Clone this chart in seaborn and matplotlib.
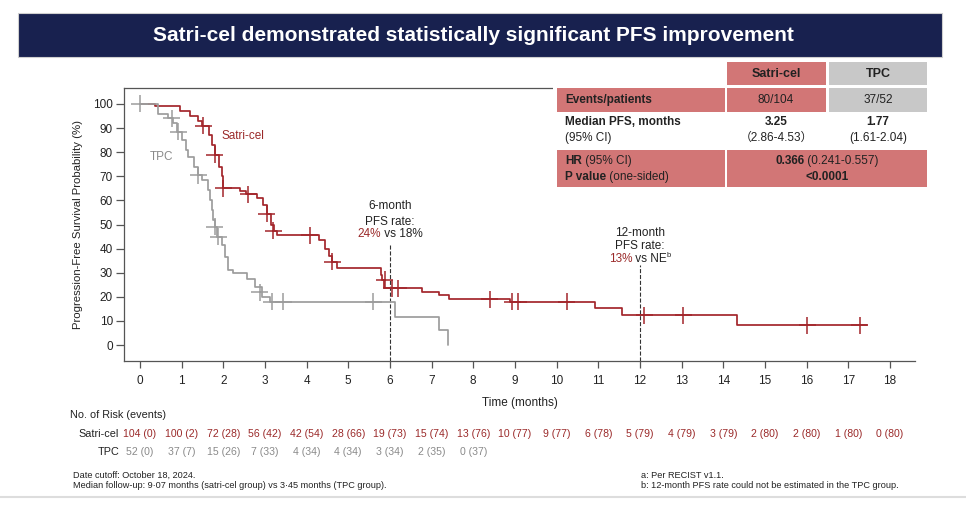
import numpy as np
import pandas as pd
import matplotlib
matplotlib.use("Agg")
import matplotlib.pyplot as plt
import seaborn as sns
from matplotlib.patches import Rectangle
from matplotlib.transforms import offset_copy, blended_transform_factory

# ---------------- data ----------------
satri_time = [0, 0.36, 0.96, 1.2, 1.4, 1.5, 1.65, 1.72, 1.8, 1.9, 1.97, 2.0, 2.4, 2.55, 2.8,
              2.95, 3.05, 3.15, 3.22, 3.3, 4.3, 4.45, 4.55, 4.62, 4.72, 5.78, 5.82, 5.86,
              6.76, 7.18, 7.42, 8.88, 10.92, 11.56, 14.32, 17.44]
satri_surv = [100, 99, 97, 95, 93, 91, 87, 83, 79, 74, 70, 65, 64, 62.5, 60.8,
              58, 54.5, 50, 47.5, 45.5, 43.5, 40, 37, 34.5, 32, 29, 27, 23.5,
              22.2, 20.7, 19.1, 18.0, 15.2, 12.4, 8.3, 8.3]
satri_cens_time = [1.52, 1.8, 2.0, 2.6, 3.04, 3.2, 4.08, 4.62, 5.88, 6.04, 6.2, 8.4, 8.94,
                   9.08, 10.24, 12.1, 13.04, 16.01, 17.28]
satri_cens_surv = [91, 79, 65, 62.5, 54.5, 47.5, 45.5, 34.5, 27, 23.5, 23.5, 19.1, 18.0,
                   18.0, 18.0, 12.4, 12.4, 8.3, 8.3]

tpc_time = [0, 0.44, 0.68, 0.8, 0.9, 1.0, 1.1, 1.16, 1.3, 1.4, 1.48, 1.64, 1.68, 1.72, 1.76,
            1.8, 1.85, 1.96, 2.04, 2.12, 2.24, 2.56, 2.76, 2.92, 3.12, 6.12, 7.18, 7.4]
tpc_surv = [100, 96, 94, 92, 88.5, 85, 81, 78, 74, 70.5, 68.5, 64.3, 60, 56, 52,
            49, 45, 41.5, 36.6, 31, 29.7, 27.6, 24.2, 20, 18, 11.7, 6.2, 0]
tpc_cens_time = [0, 0.76, 0.92, 1.4, 1.8, 1.88, 2.88, 3.16, 3.44, 5.6]
tpc_cens_surv = [100, 94, 88.5, 70.5, 49, 45, 22, 18, 18, 18]

risk_months = list(range(19))
satri_risk = ["104 (0)", "100 (2)", "72 (28)", "56 (42)", "42 (54)", "28 (66)", "19 (73)",
              "15 (74)", "13 (76)", "10 (77)", "9 (77)", "6 (78)", "5 (79)", "4 (79)",
              "3 (79)", "2 (80)", "2 (80)", "1 (80)", "0 (80)"]
tpc_risk = ["52 (0)", "37 (7)", "15 (26)", "7 (33)", "4 (34)", "4 (34)", "3 (34)",
            "2 (35)", "0 (37)"]
x_ticks = list(range(0, 19))
y_ticks = list(range(0, 101, 10))

# ---------------- style ----------------
RED = "#a3262b"
RED_TXT = "#9b2a2a"
GRAY = "#9c9c9c"
GRAY_TXT = "#8a8a8a"
DARK = "#222222"
CELL_RED = "#d27676"
CELL_GRAY = "#c8c8c8"
NAVY = "#18214f"

sns.set_style("ticks")
plt.rcParams["font.family"] = ["Liberation Sans", "DejaVu Sans"]
NARROW = ["Liberation Sans Narrow", "Liberation Sans", "DejaVu Sans"]
CJK = ["Liberation Sans", "Noto Sans CJK SC", "DejaVu Sans"]

W, H = 966, 505
fig = plt.figure(figsize=(W / 100, H / 100), dpi=100)
fx = lambda x: x / W
fy = lambda y: 1 - y / H

ax = fig.add_axes([fx(124), fy(361), fx(915) - fx(124), fy(88) - fy(361)])

# ---------------- KM curves ----------------
df_km = pd.concat([
    pd.DataFrame({"Time": satri_time, "Surv": satri_surv, "Arm": "Satri-cel"}),
    pd.DataFrame({"Time": tpc_time, "Surv": tpc_surv, "Arm": "TPC"}),
], ignore_index=True)
df_cens = pd.concat([
    pd.DataFrame({"Time": satri_cens_time, "Surv": satri_cens_surv, "Arm": "Satri-cel"}),
    pd.DataFrame({"Time": tpc_cens_time, "Surv": tpc_cens_surv, "Arm": "TPC"}),
], ignore_index=True)
pal = {"Satri-cel": RED, "TPC": GRAY}
order = ["Satri-cel", "TPC"]

sns.lineplot(data=df_km, x="Time", y="Surv", hue="Arm", hue_order=order, palette=pal,
             estimator=None, sort=False, drawstyle="steps-post", linewidth=1.25,
             legend=False, ax=ax)
sns.scatterplot(data=df_cens, x="Time", y="Surv", hue="Arm", hue_order=order, palette=pal,
                marker="+", s=150, linewidth=1.1, legend=False, ax=ax, zorder=3)

ax.set_xlim(-0.38, 18.6)
ax.set_ylim(-6.6, 106.6)
ax.set_xticks(x_ticks)
ax.set_yticks(y_ticks)
ax.set_xticklabels([str(v) for v in x_ticks], fontsize=8.5, color=DARK, family=NARROW)
ax.set_yticklabels([str(v) for v in y_ticks], fontsize=8.5, color=DARK)
ax.set_xlabel("Time (months)", fontsize=8.5, color=DARK, labelpad=7, family=NARROW)
ax.set_ylabel("Progression-Free Survival Probability (%)", fontsize=8.2, color=DARK, labelpad=7)
ax.tick_params(axis="x", direction="out", length=5, width=0.9, color="#555555", pad=5)
ax.tick_params(axis="y", direction="out", length=6, width=0.9, color="#555555", pad=2)
for s in ["left", "bottom", "top"]:
    ax.spines[s].set_color("#555555")
    ax.spines[s].set_linewidth(0.9)
ax.spines["right"].set_visible(False)

# dashed reference lines
ax.plot([6, 6], [-6.6, 42], ls="--", lw=0.8, color="#333333", zorder=1)
ax.plot([12, 12], [-6.6, 33], ls="--", lw=0.8, color="#333333", zorder=1)

# curve labels
ax.text(1.97, 86.7, "Satri-cel", color=RED_TXT, fontsize=8.5, va="center", ha="left")
ax.text(0.24, 78, "TPC", color=GRAY_TXT, fontsize=8.5, va="center", ha="left")

renderer = fig.canvas.get_renderer()


def parts_text(x, y, parts, transform, ha="left", va="center", fontsize=8.5):
    objs = []
    dys = []
    for s, kw in parts:
        kw = dict(kw)
        dy = kw.pop("dy", 0)
        fs = kw.pop("fontsize", fontsize)
        t = fig.text(x, y, s, transform=transform, ha="left", va=va, fontsize=fs, **kw)
        objs.append(t)
        dys.append(dy)
    widths = [t.get_window_extent(renderer).width for t in objs]
    total = sum(widths)
    off = -total / 2 if ha == "center" else 0
    for t, w, dy in zip(objs, widths, dys):
        t.set_transform(offset_copy(transform, fig=fig, x=off, y=dy, units="dots"))
        off += w


# 6-month annotation
ax.text(6, 57.7, "6-month", ha="center", va="center", fontsize=8.5, color=DARK)
ax.text(6, 51.2, "PFS rate:", ha="center", va="center", fontsize=8.5, color=DARK)
parts_text(6, 46.0, [("24%", {"color": RED_TXT}), (" vs 18%", {"color": DARK})],
           ax.transData, ha="center")
# 12-month annotation
ax.text(12, 46.5, "12-month", ha="center", va="center", fontsize=8.5, color=DARK)
ax.text(12, 41.0, "PFS rate:", ha="center", va="center", fontsize=8.5, color=DARK)
parts_text(12, 35.5, [("13%", {"color": RED_TXT}), (" vs NE", {"color": DARK}),
                      ("b", {"color": DARK, "fontsize": 5.5, "dy": 4})],
           ax.transData, ha="center")

# ---------------- risk table ----------------
btr = blended_transform_factory(ax.transData, fig.transFigure)
fig.text(fx(70), fy(415), "No. of Risk (events)", fontsize=7.8, color=DARK, va="center")
fig.text(fx(119), fy(434), "Satri-cel", fontsize=7.8, color=DARK, va="center", ha="right")
fig.text(fx(119), fy(452), "TPC", fontsize=7.8, color=DARK, va="center", ha="right")
for m, s in zip(risk_months, satri_risk):
    ax.text(m, fy(434), s, transform=btr, ha="center", va="center", fontsize=7.6,
            color=RED_TXT, clip_on=False)
for m, s in zip(risk_months, tpc_risk):
    ax.text(m, fy(452), s, transform=btr, ha="center", va="center", fontsize=7.6,
            color=GRAY_TXT, clip_on=False)

# ---------------- title bar ----------------
fig.add_artist(Rectangle((fx(18), fy(57)), fx(942) - fx(18), fy(13) - fy(57),
                         transform=fig.transFigure, facecolor=NAVY, edgecolor="#cfcfcf",
                         lw=0.8, zorder=5))
fig.text(fx(473), fy(35), "Satri-cel demonstrated statistically significant PFS improvement",
         ha="center", va="center", fontsize=15, color="white", fontweight="bold",
         family=NARROW, zorder=6)


# ---------------- stats table ----------------
def cell(x0, x1, y0, y1, color):
    fig.add_artist(Rectangle((fx(x0), fy(y1)), fx(x1) - fx(x0), fy(y0) - fy(y1),
                             transform=fig.transFigure, facecolor=color, edgecolor="none",
                             zorder=5))


cell(553, 930, 86, 190, "white")
cell(727, 826, 62, 85, CELL_RED)
cell(829, 927, 62, 85, CELL_GRAY)
cell(557, 725, 88, 112, CELL_RED)
cell(727, 826, 88, 112, CELL_RED)
cell(829, 927, 88, 112, CELL_GRAY)
cell(557, 725, 150, 187, CELL_RED)
cell(727, 927, 150, 187, CELL_RED)

TF = fig.transFigure
tk = dict(transform=TF, va="center", fontsize=8.5, color=DARK, zorder=7)
fig.text(fx(776), fy(74), "Satri-cel", ha="center", fontweight="bold", **{**tk, "fontsize": 9})
fig.text(fx(878), fy(74), "TPC", ha="center", fontweight="bold", **{**tk, "fontsize": 9})
fig.text(fx(565), fy(100), "Events/patients", ha="left", fontweight="bold", **tk)
fig.text(fx(776), fy(100), "80/104", ha="center", **tk)
fig.text(fx(878), fy(100), "37/52", ha="center", **tk)
fig.text(fx(565), fy(122), "Median PFS, months", ha="left", fontweight="bold", **tk)
fig.text(fx(565), fy(138), "(95% CI)", ha="left", **tk)
fig.text(fx(776), fy(122), "3.25", ha="center", fontweight="bold", **tk)
fig.text(fx(776), fy(138), "（2.86-4.53）", ha="center", family=CJK, **tk)
fig.text(fx(878), fy(122), "1.77", ha="center", fontweight="bold", **tk)
fig.text(fx(878), fy(138), "(1.61-2.04)", ha="center", **tk)

pz = {"zorder": 7}
parts_text(fx(565), fy(161), [("HR", {"fontweight": "bold", "color": DARK, **pz}),
                              (" (95% CI)", {"color": DARK, **pz})], TF)
parts_text(fx(565), fy(177), [("P value", {"fontweight": "bold", "color": DARK, **pz}),
                              (" (one-sided)", {"color": DARK, **pz})], TF)
parts_text(fx(827), fy(161), [("0.366", {"fontweight": "bold", "color": DARK, **pz}),
                              (" (0.241-0.557)", {"color": DARK, **pz})], TF, ha="center")
fig.text(fx(827), fy(177), "<0.0001", ha="center", fontweight="bold", **tk)

# ---------------- footnotes ----------------
fn = dict(fontsize=6.6, color=DARK, va="center", family=NARROW)
fig.text(fx(73), fy(475), "Date cutoff: October 18, 2024.", **fn)
fig.text(fx(73), fy(486), "Median follow-up: 9·07 months (satri-cel group) vs 3·45 months (TPC group).", **fn)
fig.text(fx(641), fy(475), "a: Per RECIST v1.1.", **fn)
fig.text(fx(641), fy(486), "b: 12-month PFS rate could not be estimated in the TPC group.", **fn)
fig.add_artist(plt.Line2D([0, 1], [fy(497), fy(497)], transform=TF, color="#dddddd", lw=1.5))

fig.savefig("out.png", dpi=100)
